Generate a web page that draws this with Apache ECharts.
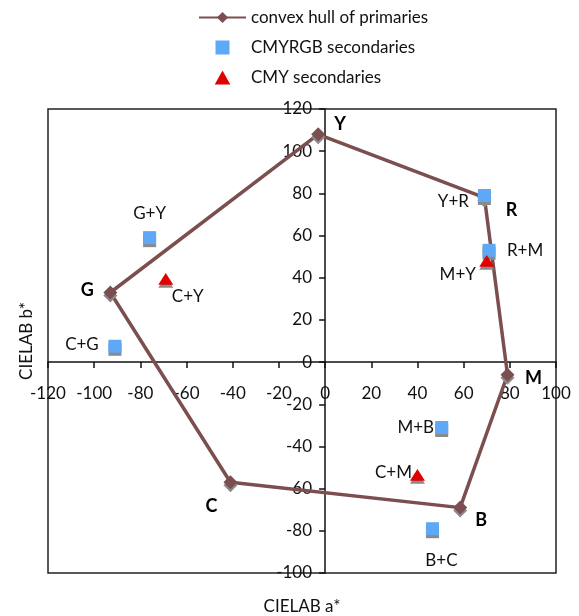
<!DOCTYPE html>
<html><head><meta charset="utf-8">
<script src="https://cdn.jsdelivr.net/npm/echarts@6/dist/echarts.min.js"></script>
<style>html,body{margin:0;padding:0;background:#fff}#c{width:579px;height:616px}</style>
</head><body><div id="c"></div>
<script>
// ---- data ----
const primaryNames = ['Y', 'R', 'M', 'B', 'C', 'G'];
const primaryA = [-3, 69, 79, 58.5, -41, -93];
const primaryB = [108, 78, -6, -69, -57, 33];
const cmyrgbNames = ['G+Y', 'C+G', 'Y+R', 'R+M', 'M+B', 'B+C'];
const cmyrgbA = [-76, -91, 69, 71, 50.5, 46.5];
const cmyrgbB = [59, 7.5, 79, 53, -31, -79];
const cmyNames = ['C+Y', 'M+Y', 'C+M'];
const cmyA = [-69, 70, 40];
const cmyB = [39.5, 48, -53.5];
const xRange = [-120, 100];
const yRange = [-100, 120];
const tickStep = 20;
const seriesNames = ['convex hull of primaries', 'CMYRGB secondaries', 'CMY secondaries'];
const axisNames = ['CIELAB a*', 'CIELAB b*'];

// ---- styling ----
const FONT = 'Lato';
const GRID = {left: 48, right: 23, top: 109, bottom: 43};
const labelOffsets = {
  'Y': [22, -10], 'R': [27, 13], 'M': [26, 3], 'B': [21, 13], 'C': [-19, 24], 'G': [-23, -2],
  'G+Y': [0, -24], 'C+G': [-33, -2], 'Y+R': [-31, 6], 'R+M': [36, 0], 'M+B': [-26, 0], 'B+C': [9, 32],
  'C+Y': [22, 18], 'M+Y': [-29, 14], 'C+M': [-24, -2]
};
const SQUARE = 'path://M0,0H10V10H0Z';
const TRI = 'path://M5,0L10,9L0,9Z';
const shadow = {shadowColor: '#8a8a8a', shadowOffsetY: 3, shadowBlur: 0};

function items(names, xs, ys, labelStyle) {
  return names.map((n, i) => ({
    name: n, value: [xs[i], ys[i]],
    label: Object.assign({offset: labelOffsets[n]}, labelStyle || {})
  }));
}
const hull = items(primaryNames, primaryA, primaryB, {fontWeight: 'bold', fontSize: 18});
hull.push({name: '', value: [primaryA[0], primaryB[0]], label: {show: false}, symbolSize: 0});

const axisCommon = {
  type: 'value', interval: tickStep, splitLine: {show: false},
  axisLine: {onZero: false, lineStyle: {color: '#111', width: 1.5}},
  axisTick: {show: true, length: 6, lineStyle: {color: '#111', width: 1.5}},
  nameLocation: 'middle',
  nameTextStyle: {fontFamily: FONT, fontSize: 17, color: '#111'}
};

const option = {
  animation: false,
  textStyle: {fontFamily: FONT},
  grid: Object.assign({show: true, borderColor: '#222', borderWidth: 1.5,
         containLabel: false, outerBoundsMode: 'none'}, GRID),
  legend: {
    orient: 'vertical', left: 198, top: 9, padding: 0, itemWidth: 47, itemHeight: 14, itemGap: 13,
    data: seriesNames,
    textStyle: {fontFamily: FONT, fontSize: 17, color: '#111'},
    itemStyle: {shadowColor: 'transparent', shadowOffsetY: 0}
  },
  xAxis: Object.assign({}, axisCommon, {
    min: xRange[0], max: xRange[1], name: axisNames[0], nameGap: 236,
    axisLabel: {margin: 23, fontFamily: FONT, fontSize: 17, color: '#111'}
  }),
  yAxis: Object.assign({}, axisCommon, {
    min: yRange[0], max: yRange[1], name: axisNames[1], nameGap: 290,
    axisLabel: {margin: 13, fontFamily: FONT, fontSize: 17, color: '#111'}
  }),
  series: [
    {
      name: seriesNames[0], type: 'line', data: hull,
      symbol: 'diamond', symbolSize: 14, showAllSymbol: true,
      lineStyle: {color: '#7b4f4f', width: 3.5},
      itemStyle: Object.assign({color: '#7b4f4f'}, shadow),
      label: {show: true, position: 'inside', formatter: '{b}', color: '#000', fontFamily: FONT,
              align: 'center', verticalAlign: 'middle'},
      z: 2
    },
    {
      name: seriesNames[1], type: 'scatter', data: items(cmyrgbNames, cmyrgbA, cmyrgbB),
      symbol: SQUARE, symbolSize: 13, symbolKeepAspect: true,
      itemStyle: Object.assign({color: '#5ea8f5', opacity: 1}, shadow),
      label: {show: true, position: 'inside', formatter: '{b}', color: '#111', fontFamily: FONT,
              fontSize: 17, align: 'center', verticalAlign: 'middle'},
      z: 3
    },
    {
      name: seriesNames[2], type: 'scatter', data: items(cmyNames, cmyA, cmyB),
      symbol: TRI, symbolSize: [15, 13], symbolKeepAspect: true,
      itemStyle: Object.assign({color: '#e00000', opacity: 1}, shadow),
      label: {show: true, position: 'inside', formatter: '{b}', color: '#111', fontFamily: FONT,
              fontSize: 17, align: 'center', verticalAlign: 'middle'},
      z: 4
    }
  ]
};
const chart = echarts.init(document.getElementById('c'), null, {renderer: 'canvas'});
chart.setOption(option);
// place both axes on the zero lines (labels included), using the library's own scales
const zero = chart.convertToPixel({gridIndex: 0}, [0, 0]);
const gridBottom = 616 - GRID.bottom;
chart.setOption({
  xAxis: {offset: zero[1] - gridBottom},
  yAxis: {offset: GRID.left - zero[0]}
});
</script>
</body></html>
